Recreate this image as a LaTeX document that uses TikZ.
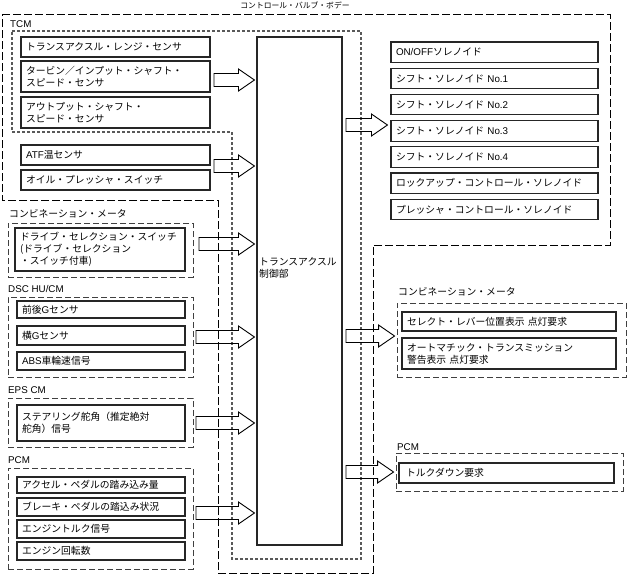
\documentclass[tikz,border=0pt]{standalone}
\usepackage{fontspec}
\setmainfont{Noto Sans CJK JP}
\newfontfamily\lat{Liberation Sans}
\usetikzlibrary{calc}
\tikzset{
  box/.style={draw=black!85, line width=1.1pt, inner xsep=5pt, inner ysep=1pt, align=left, font=\fontsize{9.8}{12}\selectfont},
  grp/.style={draw=black!75, line width=0.9pt, dash pattern=on 6pt off 3pt, inner sep=0pt},
  lbl/.style={inner sep=0pt, anchor=west, font=\fontsize{9.8}{12}\selectfont},
  outerline/.style={draw=black, line width=0.9pt, dash pattern=on 8pt off 3pt},
  innerline/.style={draw=black!65, line width=1.1pt, dash pattern=on 3pt off 2pt},
  barrow/.style={draw=black, line width=0.9pt, to path={let \p1=(\tikztostart), \p2=(\tikztotarget) in
     (\x1,\y1-6.5pt) -- (\x2-16pt,\y1-6.5pt) -- (\x2-16pt,\y1-11pt) -- (\x2,\y1) -- (\x2-16pt,\y1+11pt) -- (\x2-16pt,\y1+6.5pt) -- (\x1,\y1+6.5pt) -- cycle}}
}
\newcommand\bx[6]{%
  \pgfmathsetmacro\bxw{#4-#2}\pgfmathsetmacro\bxh{#5-#3}\pgfmathsetmacro\bxt{#4-#2-10}%
  \node[box, minimum width=\bxw pt, minimum height=\bxh pt, text width=\bxt pt] (#1) at ({(#2+#4)/2},{(#3+#5)/2}) {#6};}
\newcommand\gx[5]{%
  \pgfmathsetmacro\bxw{#4-#2}\pgfmathsetmacro\bxh{#5-#3}%
  \node[grp, minimum width=\bxw pt, minimum height=\bxh pt] (#1) at ({(#2+#4)/2},{(#3+#5)/2}) {};}
\begin{document}
\begin{tikzpicture}[x=1pt,y=-1pt]
\useasboundingbox (0,0) rectangle (627,574);
% outlines
\draw[outerline] (2,14) -- (610,14) -- (610,245) -- (373,245) -- (373,573) -- (218,573) -- (218,200) -- (2,200) -- cycle;
\draw[innerline] (12,31) -- (361,31) -- (361,559) -- (232,559) -- (232,132) -- (12,132) -- cycle;
\node[inner sep=0pt, font=\fontsize{7.8}{9}\selectfont] (title) at (295,5.5) {コントロール・バルブ・ボデー};
% labels
\node[lbl] (ltcm) at (10,24) {\lat TCM};
\node[lbl] (lcomb) at (9,214) {コンビネーション・メータ};
\node[lbl] (ldsc) at (8,289) {\lat DSC HU/CM};
\node[lbl] (leps) at (8,390) {\lat EPS CM};
\node[lbl] (lpcm) at (8,460) {\lat PCM};
\node[lbl] (rcomb) at (398,292) {コンビネーション・メータ};
\node[lbl] (rpcm) at (397,447) {\lat PCM};
% central
\node[draw=black!85, line width=1.1pt, minimum width=85pt, minimum height=508pt, inner sep=0pt] (ctrl) at (299.5,291) {};
\node[lbl, align=left] (ctrltxt) at (259,267.5) {トランスアクスル\\制御部};
% TCM inputs
\bx{t1}{21}{37}{210}{57}{トランスアクスル・レンジ・センサ}
\bx{t2}{21}{61}{210}{92}{タービン／インプット・シャフト・\\スピード・センサ}
\bx{t3}{21}{97}{210}{128}{アウトプット・シャフト・\\スピード・センサ}
\bx{t4}{21}{145}{210}{165}{{\lat ATF}温センサ}
\bx{t5}{21}{170}{210}{190}{オイル・プレッシャ・スイッチ}
% combination meter (input)
\gx{gcomb}{8}{223}{193}{277}
\bx{c1}{15}{228}{185}{271}{ドライブ・セレクション・スイッチ\\(ドライブ・セレクション\\・スイッチ付車)}
% DSC
\gx{gdsc}{8}{297}{193}{377}
\bx{d1}{17}{301}{185}{318}{前後{\lat G}センサ}
\bx{d2}{17}{326}{185}{345}{横{\lat G}センサ}
\bx{d3}{17}{352}{185}{370}{{\lat ABS}車輪速信号}
% EPS
\gx{geps}{8}{398}{193}{447}
\bx{e1}{17}{405}{185}{441}{ステアリング舵角（推定絶対\\舵角）信号}
% PCM
\gx{gpcm}{8}{468}{193}{569}
\bx{p1}{17}{477}{185}{493}{アクセル・ペダルの踏み込み量}
\bx{p2}{17}{498}{185}{516}{ブレーキ・ペダルの踏込み状況}
\bx{p3}{17}{520}{185}{538}{エンジントルク信号}
\bx{p4}{17}{542}{185}{560}{エンジン回転数}
% solenoids
\bx{s1}{391}{42}{598}{62.5}{{\lat ON/OFF}ソレノイド}
\bx{s2}{391}{68.2}{598}{88.7}{シフト・ソレノイド {\lat No.1}}
\bx{s3}{391}{94.4}{598}{114.9}{シフト・ソレノイド {\lat No.2}}
\bx{s4}{391}{120.6}{598}{141.1}{シフト・ソレノイド {\lat No.3}}
\bx{s5}{391}{146.8}{598}{167.3}{シフト・ソレノイド {\lat No.4}}
\bx{s6}{391}{173}{598}{193.5}{ロックアップ・コントロール・ソレノイド}
\bx{s7}{391}{199.2}{598}{219.7}{プレッシャ・コントロール・ソレノイド}
% right combination meter
\gx{grcomb}{397}{303}{626}{377}
\bx{m1}{402}{312}{616}{331}{セレクト・レバー位置表示 点灯要求}
\bx{m2}{402}{338}{616}{369}{オートマチック・トランスミッション\\警告表示 点灯要求}
% right PCM
\gx{grpcm}{396}{453}{623}{491}
\bx{q1}{399}{463}{614}{483}{\hspace{2pt}トルクダウン要求}
% arrows
\coordinate (a1) at (214,80);  \coordinate (a1e) at ($(ctrl.west |- a1)+(-2,0)$);
\coordinate (a2) at (214,166); \coordinate (a2e) at ($(ctrl.west |- a2)+(-2,0)$);
\coordinate (a3) at (199,244); \coordinate (a3e) at ($(ctrl.west |- a3)+(-2,0)$);
\coordinate (a4) at (196,337); \coordinate (a4e) at ($(ctrl.west |- a4)+(-2,0)$);
\coordinate (a5) at (196,423); \coordinate (a5e) at ($(ctrl.west |- a5)+(-2,0)$);
\coordinate (a6) at (196,513); \coordinate (a6e) at ($(ctrl.west |- a6)+(-2,0)$);
\coordinate (b1) at (346,125); \coordinate (b1e) at ($(s4.west |- b1)+(-3,0)$);
\coordinate (b2) at (346,336); \coordinate (b2e) at ($(grcomb.west |- b2)+(-2,0)$);
\coordinate (b3) at (346,472); \coordinate (b3e) at ($(grpcm.west |- b3)+(-2,0)$);
\foreach \s in {a1,a2,a3,a4,a5,a6,b1,b2,b3} { \draw[barrow] (\s) to (\s e); }
\end{tikzpicture}
\end{document}
